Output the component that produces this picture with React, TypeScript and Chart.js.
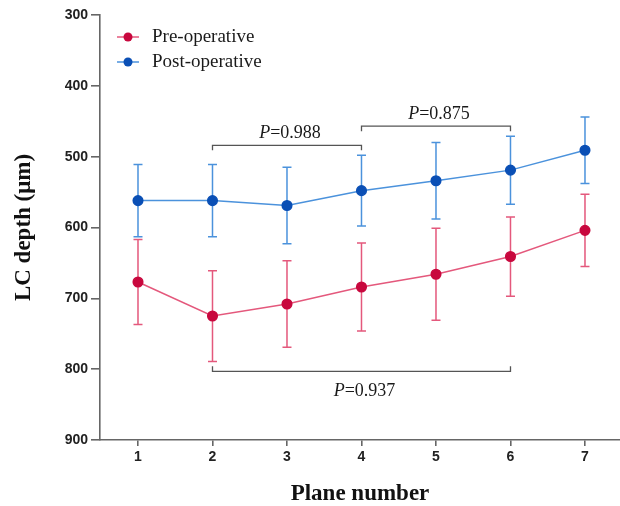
import React, { useEffect, useRef } from "react";
import { Chart, registerables } from "chart.js";

Chart.register(...registerables);

// ---- data ----
const planes = [1, 2, 3, 4, 5, 6, 7];
const preMean = [677, 725, 708, 684, 666, 641, 604];
const preSd = [60, 64, 61, 62, 65, 56, 51];
const postMean = [562, 562, 569, 548, 534, 519, 491];
const postSd = [51, 51, 54, 50, 54, 48, 47];
const yTicks = [300, 400, 500, 600, 700, 800, 900];
const seriesNames = ["Pre-operative", "Post-operative"];
const compFrom = [2, 4, 2];
const compTo = [4, 6, 6];
const compLevel = [484, 457, 803];
const compP = ["0.988", "0.875", "0.937"];
const compBelow = [false, false, true];

const RED_POINT = "#c8083e";
const RED_LINE = "#e4587c";
const BLUE_POINT = "#0a4fb5";
const BLUE_LINE = "#4b92dc";
const AXIS = "#666666";
const TEXT = "#1a1a1a";

const overlayPlugin = {
  id: "overlay",
  beforeDatasetsDraw(chart: any) {
    const ctx = chart.ctx;
    const xs = chart.scales.x;
    const ys = chart.scales.y;
    const groups = [
      { mean: preMean, sd: preSd, color: RED_LINE },
      { mean: postMean, sd: postSd, color: BLUE_LINE },
    ];
    ctx.save();
    ctx.lineWidth = 1.5;
    for (const g of groups) {
      ctx.strokeStyle = g.color;
      planes.forEach((p, i) => {
        const x = xs.getPixelForValue(p);
        const y1 = ys.getPixelForValue(g.mean[i] - g.sd[i]);
        const y2 = ys.getPixelForValue(g.mean[i] + g.sd[i]);
        ctx.beginPath();
        ctx.moveTo(x, y1);
        ctx.lineTo(x, y2);
        ctx.moveTo(x - 4.5, y1);
        ctx.lineTo(x + 4.5, y1);
        ctx.moveTo(x - 4.5, y2);
        ctx.lineTo(x + 4.5, y2);
        ctx.stroke();
      });
    }
    ctx.restore();
  },
  afterDraw(chart: any) {
    const ctx = chart.ctx;
    const xs = chart.scales.x;
    const ys = chart.scales.y;
    const area = chart.chartArea;
    ctx.save();
    // brackets
    ctx.strokeStyle = "#555";
    ctx.lineWidth = 1.3;
    compFrom.forEach((f, i) => {
      const x1 = xs.getPixelForValue(f);
      const x2 = xs.getPixelForValue(compTo[i]);
      const y = ys.getPixelForValue(compLevel[i]);
      const dir = compBelow[i] ? -5 : 5;
      ctx.beginPath();
      ctx.moveTo(x1, y + dir);
      ctx.lineTo(x1, y);
      ctx.lineTo(x2, y);
      ctx.lineTo(x2, y + dir);
      ctx.stroke();
      const italic = "italic 18px 'Liberation Serif', serif";
      const normal = "18px 'Liberation Serif', serif";
      ctx.font = italic;
      const wP = ctx.measureText("P").width;
      ctx.font = normal;
      const rest = "=" + compP[i];
      const wR = ctx.measureText(rest).width;
      const cx = (x1 + x2) / 2 + 3;
      const sx = cx - (wP + wR) / 2;
      const by = compBelow[i] ? y + 25 : y - 7;
      ctx.fillStyle = TEXT;
      ctx.textBaseline = "alphabetic";
      ctx.textAlign = "left";
      ctx.font = italic;
      ctx.fillText("P", sx, by);
      ctx.font = normal;
      ctx.fillText(rest, sx + wP, by);
    });
    // legend
    const cols = [
      [RED_LINE, RED_POINT],
      [BLUE_LINE, BLUE_POINT],
    ];
    seriesNames.forEach((name, i) => {
      const y = area.top + 22 + i * 25;
      const lx = area.left + 17;
      ctx.strokeStyle = cols[i][0];
      ctx.lineWidth = 1.5;
      ctx.beginPath();
      ctx.moveTo(lx, y);
      ctx.lineTo(lx + 22, y);
      ctx.stroke();
      ctx.fillStyle = cols[i][1];
      ctx.beginPath();
      ctx.arc(lx + 11, y, 4.5, 0, Math.PI * 2);
      ctx.fill();
      ctx.fillStyle = TEXT;
      ctx.font = "19px 'Liberation Serif', serif";
      ctx.textAlign = "left";
      ctx.textBaseline = "middle";
      ctx.fillText(name, area.left + 52, y);
    });
    ctx.restore();
  },
};

export default function App() {
  const ref = useRef<HTMLCanvasElement | null>(null);
  useEffect(() => {
    if (!ref.current) return;
    const chart = new Chart(ref.current, {
      type: "line",
      data: {
        datasets: [
          {
            label: seriesNames[0],
            data: planes.map((p, i) => ({ x: p, y: preMean[i] })),
            borderColor: RED_LINE,
            backgroundColor: RED_POINT,
            pointBackgroundColor: RED_POINT,
            pointBorderColor: RED_POINT,
            pointRadius: 4.8,
            borderWidth: 1.5,
            tension: 0,
          },
          {
            label: seriesNames[1],
            data: planes.map((p, i) => ({ x: p, y: postMean[i] })),
            borderColor: BLUE_LINE,
            backgroundColor: BLUE_POINT,
            pointBackgroundColor: BLUE_POINT,
            pointBorderColor: BLUE_POINT,
            pointRadius: 4.8,
            borderWidth: 1.5,
            tension: 0,
          },
        ],
      },
      options: {
        animation: false,
        responsive: false,
        layout: { autoPadding: false, padding: { top: 15, left: 0, right: 0, bottom: 0 } },
        plugins: {
          legend: { display: false },
          tooltip: { enabled: false },
        },
        scales: {
          x: {
            type: "linear",
            min: 0.49,
            max: 7.47,
            afterBuildTicks: (s: any) => {
              s.ticks = planes.map((v) => ({ value: v }));
            },
            afterFit: (s: any) => {
              s.height = 66;
            },
            border: { display: true, color: AXIS, width: 1.6 },
            grid: {
              drawOnChartArea: false,
              drawTicks: true,
              tickLength: 6,
              color: AXIS,
              lineWidth: 1.6,
            },
            ticks: {
              color: "#222",
              padding: 3,
              font: { family: "'Liberation Sans', Arial, sans-serif", size: 14, weight: "bold" },
              callback: (v: any) => String(v),
            },
            title: {
              display: true,
              text: "Plane number",
              color: "#111",
              padding: { top: 0, bottom: 0 },
              font: { family: "'Liberation Serif', serif", size: 23, weight: "bold", lineHeight: 1 },
            },
          },
          y: {
            type: "linear",
            reverse: true,
            min: 300,
            max: 900,
            afterBuildTicks: (s: any) => {
              s.ticks = yTicks.map((v) => ({ value: v }));
            },
            afterFit: (s: any) => {
              s.width = 100;
            },
            border: { display: true, color: AXIS, width: 1.6 },
            grid: {
              drawOnChartArea: false,
              drawTicks: true,
              tickLength: 9,
              color: AXIS,
              lineWidth: 1.6,
            },
            ticks: {
              color: "#222",
              padding: 3,
              font: { family: "'Liberation Sans', Arial, sans-serif", size: 14, weight: "bold" },
              callback: (v: any) => String(v),
            },
            title: {
              display: true,
              text: "LC depth (\u03bcm)",
              color: "#111",
              padding: { top: 13, bottom: 0 },
              font: { family: "'Liberation Serif', serif", size: 23, weight: "bold", lineHeight: 1 },
            },
          },
        },
      },
      plugins: [overlayPlugin],
    } as any);
    return () => chart.destroy();
  }, []);
  return (
    <div style={{ position: "fixed", left: 0, top: 0, width: 620, height: 506, background: "#fff" }}>
      <canvas ref={ref} width={620} height={506} style={{ width: 620, height: 506, display: "block" }} />
    </div>
  );
}
